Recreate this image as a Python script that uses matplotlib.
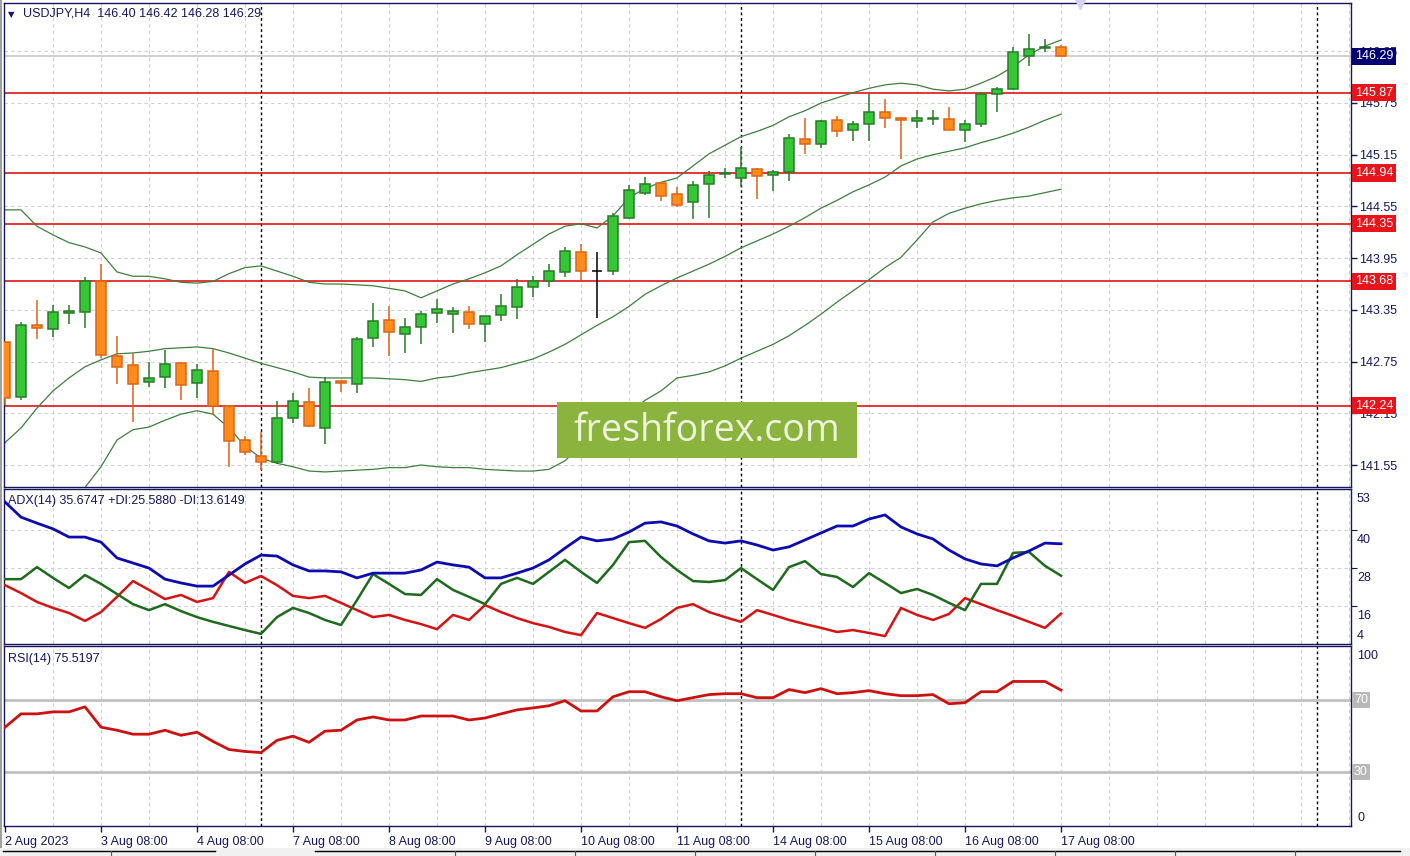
import matplotlib
matplotlib.use('Agg')
import matplotlib.pyplot as plt
import matplotlib.transforms as mtransforms
from matplotlib.patches import Rectangle
from matplotlib.lines import Line2D

plt.rcParams['font.family'] = ['Liberation Sans', 'DejaVu Sans']

# %% data -- USDJPY H4
opens = [142.98, 142.34, 143.18, 143.13, 143.31, 143.33, 143.69, 142.82, 142.71, 142.51,
         142.57, 142.73, 142.50, 142.64, 142.24, 141.84, 141.66, 141.58, 142.09, 142.28,
         141.98, 142.52, 142.49, 143.02, 143.23, 143.07, 143.15, 143.31, 143.30, 143.33,
         143.19, 143.29, 143.38, 143.62, 143.69, 143.79, 144.02, 143.80, 143.80, 144.42,
         144.71, 144.82, 144.69, 144.60, 144.81, 144.93, 144.88, 144.98, 144.91, 144.95,
         145.33, 145.28, 145.55, 145.44, 145.51, 145.65, 145.58, 145.54, 145.57, 145.57,
         145.44, 145.51, 145.85, 145.91, 146.29, 146.39, 146.40]
highs = [142.99, 143.21, 143.47, 143.41, 143.41, 143.73, 143.88, 143.05, 142.85, 142.75,
         142.88, 142.74, 142.72, 142.90, 142.25, 141.89, 141.93, 142.29, 142.39, 142.44,
         142.57, 142.53, 143.04, 143.43, 143.39, 143.26, 143.34, 143.48, 143.38, 143.39,
         143.28, 143.53, 143.71, 143.74, 143.88, 144.08, 144.11, 144.02, 144.47, 144.80,
         144.89, 144.82, 144.78, 144.84, 144.96, 144.99, 145.24, 144.99, 144.97, 145.39,
         145.58, 145.55, 145.60, 145.54, 145.85, 145.80, 145.59, 145.67, 145.67, 145.70,
         145.55, 145.88, 145.93, 146.40, 146.55, 146.49, 146.42]
lows = [142.25, 142.30, 143.01, 143.04, 143.19, 143.14, 142.79, 142.49, 142.05, 142.46,
        142.44, 142.31, 142.33, 142.14, 141.53, 141.67, 141.49, 141.56, 142.04, 141.99,
        141.79, 142.40, 142.39, 142.92, 142.82, 142.85, 142.95, 143.20, 143.08, 143.13,
        142.98, 143.22, 143.24, 143.50, 143.62, 143.73, 143.70, 143.26, 143.75, 144.40,
        144.68, 144.61, 144.54, 144.40, 144.42, 144.88, 144.78, 144.64, 144.73, 144.85,
        145.16, 145.23, 145.36, 145.31, 145.31, 145.46, 145.10, 145.46, 145.50, 145.44,
        145.30, 145.47, 145.65, 145.90, 146.18, 146.34, 146.28]
closes = [142.33, 143.17, 143.14, 143.33, 143.34, 143.68, 142.83, 142.69, 142.49, 142.56,
          142.72, 142.48, 142.65, 142.24, 141.83, 141.70, 141.59, 142.10, 142.29, 142.00,
          142.51, 142.50, 143.01, 143.22, 143.09, 143.15, 143.30, 143.36, 143.34, 143.19,
          143.28, 143.39, 143.62, 143.69, 143.80, 144.03, 143.80, 143.80, 144.44, 144.74,
          144.81, 144.67, 144.57, 144.80, 144.92, 144.94, 144.99, 144.90, 144.95, 145.34,
          145.27, 145.54, 145.43, 145.51, 145.64, 145.58, 145.55, 145.58, 145.58, 145.44,
          145.51, 145.86, 145.91, 146.34, 146.38, 146.40, 146.29]

bb_upper = [144.51, 144.51, 144.32, 144.22, 144.13, 144.08, 144.01, 143.79, 143.74, 143.74,
            143.71, 143.67, 143.66, 143.68, 143.77, 143.84, 143.86, 143.80, 143.74, 143.67,
            143.65, 143.65, 143.64, 143.63, 143.60, 143.57, 143.49, 143.57, 143.65, 143.71,
            143.78, 143.86, 143.99, 144.11, 144.23, 144.32, 144.35, 144.30, 144.44, 144.65,
            144.76, 144.83, 144.88, 145.02, 145.16, 145.26, 145.36, 145.42, 145.49, 145.59,
            145.66, 145.75, 145.81, 145.87, 145.92, 145.96, 145.98, 145.96, 145.91, 145.89,
            145.91, 145.98, 146.06, 146.17, 146.31, 146.41, 146.48]
bb_mid = [141.81, 141.98, 142.21, 142.41, 142.56, 142.69, 142.77, 142.84, 142.85, 142.87,
          142.90, 142.91, 142.92, 142.90, 142.85, 142.79, 142.73, 142.68, 142.63, 142.57,
          142.56, 142.56, 142.56, 142.56, 142.55, 142.54, 142.52, 142.56, 142.58, 142.62,
          142.65, 142.68, 142.73, 142.78, 142.86, 142.95, 143.06, 143.17, 143.27, 143.39,
          143.53, 143.63, 143.72, 143.80, 143.88, 143.97, 144.07, 144.15, 144.23, 144.32,
          144.42, 144.53, 144.62, 144.72, 144.80, 144.89, 145.02, 145.10, 145.15, 145.19,
          145.23, 145.29, 145.34, 145.40, 145.47, 145.55, 145.62]
bb_lower = [139.10, 139.45, 140.10, 140.60, 140.99, 141.29, 141.53, 141.84, 141.96, 141.99,
            142.07, 142.14, 142.18, 142.14, 141.98, 141.77, 141.63, 141.57, 141.53, 141.48,
            141.47, 141.48, 141.49, 141.50, 141.52, 141.52, 141.55, 141.53, 141.52, 141.52,
            141.50, 141.49, 141.48, 141.48, 141.50, 141.60, 141.77, 142.05, 142.10, 142.14,
            142.30, 142.41, 142.56, 142.59, 142.63, 142.70, 142.79, 142.87, 142.95, 143.05,
            143.17, 143.30, 143.44, 143.57, 143.70, 143.84, 143.96, 144.16, 144.37, 144.47,
            144.53, 144.58, 144.62, 144.65, 144.67, 144.71, 144.75]

adx = [48.9, 44.1, 42.2, 40.4, 37.8, 37.8, 36.2, 31.2, 29.6, 28.0,
       24.5, 23.3, 22.3, 22.3, 25.8, 29.3, 32.1, 31.8, 29.0, 27.1,
       27.1, 26.8, 24.9, 26.4, 26.4, 26.4, 27.4, 29.9, 29.0, 28.3,
       24.9, 24.9, 26.4, 28.0, 30.6, 34.3, 37.8, 36.6, 37.2, 39.4,
       42.2, 42.6, 41.3, 38.8, 36.6, 35.9, 36.6, 35.3, 33.7, 34.7,
       36.9, 39.1, 41.3, 41.3, 43.5, 44.8, 41.0, 38.8, 37.2, 33.7,
       30.9, 29.3, 28.7, 31.2, 33.4, 35.9, 35.67]
plus_di = [24.5, 24.5, 28.3, 24.9, 21.7, 25.8, 23.0, 19.8, 16.6, 14.7,
           16.6, 14.4, 12.5, 11.0, 9.7, 8.4, 7.2, 12.5, 15.4, 13.8,
           11.6, 10.0, 17.9, 26.1, 23.0, 19.8, 19.5, 24.5, 21.1, 18.9,
           16.6, 23.0, 24.9, 23.0, 26.8, 30.6, 26.8, 23.3, 29.0, 36.2,
           36.6, 31.5, 27.4, 23.9, 23.6, 24.2, 28.0, 24.5, 21.1, 28.3,
           30.2, 26.1, 25.2, 22.0, 26.4, 23.3, 20.1, 21.4, 19.5, 17.0,
           14.7, 23.0, 23.0, 32.8, 33.1, 28.7, 25.59]
minus_di = [22.6, 20.1, 17.3, 15.4, 13.8, 11.3, 14.1, 18.9, 23.9, 21.1,
            18.2, 19.5, 17.3, 18.5, 26.8, 23.3, 25.5, 22.6, 19.2, 18.5,
            19.2, 17.0, 14.7, 12.5, 13.2, 11.6, 10.3, 8.7, 13.2, 11.6,
            16.3, 14.1, 12.2, 10.6, 9.4, 7.8, 6.8, 13.8, 12.2, 10.6,
            9.1, 11.9, 15.4, 16.6, 14.1, 12.5, 11.0, 14.7, 13.2, 11.6,
            10.3, 9.1, 7.8, 8.4, 7.5, 6.5, 15.4, 13.2, 11.6, 13.5,
            18.5, 16.6, 14.7, 12.9, 11.0, 9.1, 13.61]
rsi = [54.9, 62.3, 62.3, 63.4, 63.4, 66.2, 54.9, 53.2, 51.0, 51.0,
       53.2, 50.4, 52.1, 47.0, 42.5, 41.4, 40.8, 47.6, 49.9, 46.5,
       52.7, 53.2, 58.9, 60.6, 58.9, 58.9, 61.1, 61.1, 61.1, 58.9,
       60.0, 62.3, 64.5, 65.6, 66.8, 69.6, 63.9, 63.9, 71.8, 74.6,
       74.6, 71.8, 69.6, 71.3, 73.0, 73.5, 73.5, 71.3, 71.3, 75.8,
       74.1, 76.3, 73.5, 74.1, 75.2, 73.5, 72.4, 72.4, 73.0, 67.9,
       68.5, 74.6, 74.6, 80.3, 80.3, 80.3, 75.52]

levels = [145.87, 144.94, 144.35, 143.68, 142.24]
bid = 146.29
price_ticks = [141.55, 142.15, 142.75, 143.35, 143.95, 144.55, 145.15, 145.75, 146.35]
adx_ticks = [53, 40, 28, 16, 4]
rsi_levels = [70, 30]
separators = [16, 46, 82]  # bar index of the dotted vertical lines
date_labels = ['2 Aug 2023', '3 Aug 08:00', '4 Aug 08:00', '7 Aug 08:00', '8 Aug 08:00',
               '9 Aug 08:00', '10 Aug 08:00', '11 Aug 08:00', '14 Aug 08:00', '15 Aug 08:00',
               '16 Aug 08:00', '17 Aug 08:00']

title = 'USDJPY,H4  146.40 146.42 146.28 146.29'
adx_title = 'ADX(14) 35.6747 +DI:25.5880 -DI:13.6149'
rsi_title = 'RSI(14) 75.5197'

# %% layout (pixel boxes -> figure fractions)
W, H = 1410, 856
NAVY = '#16165c'
GRID = '#cfcfcf'


def box(x0, y0, x1, y1):
    return [x0 / W, 1 - y1 / H, (x1 - x0) / W, (y1 - y0) / H]


fig = plt.figure(figsize=(W / 100, H / 100), dpi=100)
fig.patch.set_facecolor('white')

ax = fig.add_axes(box(4, 3, 1351, 487))
ax_adx = fig.add_axes(box(4, 489, 1351, 644))
ax_rsi = fig.add_axes(box(4, 646, 1351, 826))

n = len(closes)
x = list(range(n))
XLIM = (-0.0625, 84.125)

for a in (ax, ax_adx, ax_rsi):
    a.set_xlim(*XLIM)
    for s in a.spines.values():
        s.set_color(NAVY)
        s.set_linewidth(1.0)
    for gx in range(3, 85, 3):
        a.axvline(gx, color=GRID, lw=0.8, ls=(0, (3, 3)), zorder=0)
    for sx in separators:
        a.axvline(sx, color='black', lw=1, ls=(0, (2, 2)), zorder=1)
    a.set_xticks([])
    a.yaxis.tick_right()

# %% main price panel
ax.set_ylim(141.295, 146.91)
for p in price_ticks:
    ax.axhline(p, color=GRID, lw=0.8, ls=(0, (3, 3)), zorder=0)
ax.axhline(bid, color='#c8c8c8', lw=1.2, zorder=1)
for lv in levels:
    ax.axhline(lv, color='#e00000', lw=1.1, zorder=2)

ax.plot(x, bb_upper, color='#3e7f3e', lw=0.9, zorder=2.5)
ax.plot(x, bb_mid, color='#3e7f3e', lw=0.9, zorder=2.5)
ax.plot(x, bb_lower, color='#3e7f3e', lw=0.9, zorder=2.5)

for i in range(n):
    o, h, l, c = opens[i], highs[i], lows[i], closes[i]
    if c > o:
        fc, ec = '#35c635', '#2a7a2a'
    elif c < o:
        fc, ec = '#ff8c1a', '#dc6418'
    else:
        fc, ec = 'black', 'black'
    ax.vlines(i, l, h, color=ec, lw=1.1, zorder=3)
    ax.add_patch(Rectangle((i - 0.3, min(o, c)), 0.6, max(abs(c - o), 0.004),
                           facecolor=fc, edgecolor=ec, lw=1.1, zorder=3.5))

ax.set_yticks(price_ticks)
ax.set_yticklabels([f'{p:.2f}' for p in price_ticks])
ax.tick_params(axis='y', length=4, width=1, color=NAVY, pad=2, labelsize=9, labelcolor=NAVY)

trans = mtransforms.blended_transform_factory(ax.transAxes, ax.transData)
for lv in levels:
    ax.text(1.0 + 4 / 1347, lv, f'{lv:.2f}', transform=trans, ha='left', va='center',
            fontsize=9, color='white', zorder=10, clip_on=False,
            bbox=dict(boxstyle='square,pad=0.22', fc='#e8141b', ec='none'))
ax.text(1.0 + 4 / 1347, bid, f'{bid:.2f}', transform=trans, ha='left', va='center',
        fontsize=9, color='white', zorder=10, clip_on=False,
        bbox=dict(boxstyle='square,pad=0.22', fc='#000070', ec='none'))

ax.text(0.003, 0.985, '\u25bc', transform=ax.transAxes, ha='left', va='top',
        fontsize=6, color=NAVY, family=['DejaVu Sans'])
ax.text(0.0143, 0.99, title, transform=ax.transAxes, ha='left', va='top',
        fontsize=9, color=NAVY)
# chart shift marker
ax.plot([0.799], [1.0], marker='v', ms=8, color='#d4d4f2', transform=ax.transAxes,
        clip_on=False, zorder=5)

# %% ADX panel
ax_adx.set_ylim(4, 53)
for v in adx_ticks[1:-1]:
    ax_adx.axhline(v, color=GRID, lw=0.8, ls=(0, (3, 3)), zorder=0)
ax_adx.plot(x, minus_di, color='#d41414', lw=1.8, zorder=3)
ax_adx.plot(x, plus_di, color='#1f6a1f', lw=1.8, zorder=3)
ax_adx.plot(x, adx, color='#0b0bb0', lw=2.0, zorder=3)
ax_adx.set_yticks(adx_ticks[1:-1])
ax_adx.set_yticklabels([])
ax_adx.tick_params(axis='y', length=4, color=NAVY)
tr_adx = mtransforms.blended_transform_factory(ax_adx.transAxes, ax_adx.transData)
for v in adx_ticks:
    va = 'bottom' if v == adx_ticks[-1] else 'top'
    off = 2 if va == 'bottom' else -4
    t = mtransforms.offset_copy(tr_adx, fig=fig, x=6, y=off, units='dots')
    ax_adx.text(1.0, v, str(v), transform=t, ha='left', va=va, fontsize=9,
                color=NAVY, clip_on=False)
ax_adx.text(0.003, 0.96, adx_title, transform=ax_adx.transAxes, ha='left', va='top',
            fontsize=9, color=NAVY)

# %% RSI panel
ax_rsi.set_ylim(0, 100)
for v in rsi_levels:
    ax_rsi.axhline(v, color='#c0c0c0', lw=2, zorder=1)
ax_rsi.plot(x, rsi, color='#cc1111', lw=2, zorder=3)
ax_rsi.set_yticks([])
tr_rsi = mtransforms.blended_transform_factory(ax_rsi.transAxes, ax_rsi.transData)
for v, va, off in [(100, 'top', -4), (0, 'bottom', 2)]:
    t = mtransforms.offset_copy(tr_rsi, fig=fig, x=6, y=off, units='dots')
    ax_rsi.text(1.0, v, str(v), transform=t, ha='left', va=va, fontsize=9,
                color=NAVY, clip_on=False)
for v in rsi_levels:
    t = mtransforms.offset_copy(tr_rsi, fig=fig, x=3, y=0, units='dots')
    ax_rsi.text(1.0, v, str(v), transform=t, ha='left', va='center', fontsize=9,
                color='white', clip_on=False,
                bbox=dict(boxstyle='square,pad=0.15', fc='#b8b8b8', ec='none'))
ax_rsi.text(0.003, 0.96, rsi_title, transform=ax_rsi.transAxes, ha='left', va='top',
            fontsize=9, color=NAVY)

date_pos = list(range(0, n, 6))
ax_rsi.set_xticks(date_pos)
ax_rsi.set_xticklabels(date_labels, ha='left')
ax_rsi.tick_params(axis='x', length=4, width=1, color=NAVY, pad=3, labelsize=9,
                   labelcolor=NAVY)
ax_rsi.set_xlim(*XLIM)

# %% watermark
fig.patches.append(Rectangle((557 / W, 1 - 458 / H), 300 / W, 56 / H,
                             transform=fig.transFigure, facecolor='#8bb43f',
                             edgecolor='none', zorder=20))
fig.text(707 / W, 1 - 431 / H, 'freshforex.com', ha='center', va='center',
         fontsize=27, color='#eef4de', family=['Open Sans', 'DejaVu Sans'], zorder=21)

# %% window chrome: left frame and bottom tab strip
fig.patches.append(Rectangle((0, 0), 2 / W, 1, transform=fig.transFigure,
                             facecolor='#a0a0a0', edgecolor='none', zorder=20))
fig.patches.append(Rectangle((0, 0), 1, 8 / H, transform=fig.transFigure,
                             facecolor='#f0f0f0', edgecolor='none', zorder=20))
tab_y = 1 - 851 / H
for x0, x1 in [(3, 215), (315, 1400)]:
    fig.add_artist(Line2D([x0 / W, x1 / W], [tab_y, tab_y], color='black', lw=1,
                          transform=fig.transFigure, zorder=21))
for dx in [111, 455, 575, 695, 815, 935, 1055, 1175, 1295]:
    fig.add_artist(Line2D([dx / W, dx / W], [0, tab_y], color='#555555', lw=0.8,
                          transform=fig.transFigure, zorder=21))

plt.savefig('out.png', dpi=100)
plt.close()
